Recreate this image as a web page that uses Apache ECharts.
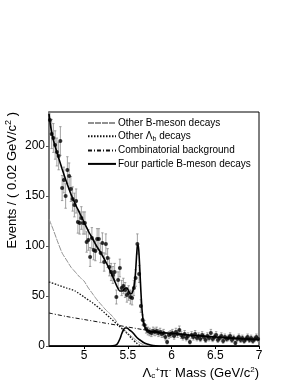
<!DOCTYPE html>
<html>
<head>
<meta charset="utf-8">
<script src="https://cdn.jsdelivr.net/npm/echarts@6/dist/echarts.min.js"></script>
<style>
html,body{margin:0;padding:0;background:#fff;}
#c{width:295px;height:382px;}
</style>
</head>
<body>
<div id="c"></div>
<script>
// ---- data ----
const binCenters = [
4.61,4.63,4.65,4.67,4.69,4.71,4.73,4.75,4.77,4.79,4.81,4.83,4.85,4.87,4.89,4.91,4.93,4.95,4.97,4.99,
5.01,5.03,5.05,5.07,5.09,5.11,5.13,5.15,5.17,5.19,5.21,5.23,5.25,5.27,5.29,5.31,5.33,5.35,5.37,5.39,
5.41,5.43,5.45,5.47,5.49,5.51,5.53,5.55,5.57,5.59,5.61,5.63,5.65,5.67,5.69,5.71,5.73,5.75,5.77,5.79,
5.81,5.83,5.85,5.87,5.89,5.91,5.93,5.95,5.97,5.99,6.01,6.03,6.05,6.07,6.09,6.11,6.13,6.15,6.17,6.19,
6.21,6.23,6.25,6.27,6.29,6.31,6.33,6.35,6.37,6.39,6.41,6.43,6.45,6.47,6.49,6.51,6.53,6.55,6.57,6.59,
6.61,6.63,6.65,6.67,6.69,6.71,6.73,6.75,6.77,6.79,6.81,6.83,6.85,6.87,6.89,6.91,6.93,6.95,6.97,6.99];
const events = [
226,212,208,201,194,190,205,158,166,150,176,170,157,147,141,145,124,123,128,123,
123,104,106,89,108,96,95,107,107,93,103,84,102,88,79,74,71,74,49,66,
78,58,60,56,51,53,49,48,58,68,102,72,40,26,21,17,15,14,13,15,
14,15,13,14,12,13,9,4,11,12,13,10,14,12,16,11,9,12,8,10,
4,11,9,12,8,10,7,11,9,6,10,8,13,7,9,11,6,8,10,5,
9,7,8,10,6,8,3,7,9,6,8,5,7,9,6,8,5,7,9,7];

const fitMass = [4.60,4.62,4.65,4.70,4.75,4.80,4.85,4.90,4.95,5.00,5.05,5.10,5.15,5.20,5.25,5.30,5.35,5.38,5.41,5.44,5.47,5.49,5.51,5.53,5.55,5.57,5.58,5.59,5.60,5.61,5.62,5.63,5.64,5.65,5.66,5.67,5.68,5.70,5.72,5.75,5.80,5.90,6.00,6.20,6.40,6.60,6.80,7.00];
const fitTotal = [232,219,206,191,177,164,152,142,133,124,115,107,99,92,84,75,65,59,55,55,58,58,55,52,53,59,65,75,89,100,101,90,73,55,40,30,24,18,15.5,14.8,14,13.2,12.8,11,9.6,8.4,7.3,6.4];

const otherBMass = [4.60,4.65,4.70,4.75,4.80,4.85,4.90,4.95,5.00,5.05,5.10,5.15,5.20,5.25,5.30,5.35,5.40,5.45,5.50,5.55,5.60,5.65,5.70,5.75];
const otherBVals = [127,116,104,93,86,79,74,69,65,58,52,46,41,36,32,27,21,17,13,9,5.5,2.5,0.8,0];

const otherLbMass = [4.60,4.70,4.80,4.90,5.00,5.10,5.20,5.30,5.40,5.45,5.50,5.55,5.60,5.63,5.65];
const otherLbVals = [64,61,58,55,49,43,36,28,20,16,12,7,3,1,0];

const combMass = [4.60,4.80,5.00,5.20,5.40,5.60,5.80,6.00,6.25,6.50,6.75,7.00];
const combVals = [33,29.5,26.5,23.5,20.5,17.5,14.5,12.5,10.6,9.0,7.6,6.4];

const fourMass = [4.60,5.30,5.35,5.38,5.41,5.43,5.45,5.47,5.49,5.52,5.55,5.58,5.61,5.64,5.68,5.72,5.76,5.82,5.90,7.00];
const fourVals = [0,0,0.5,2,7,12,16,18,18,16,14,11,8,6,3.5,2,1,0.3,0,0];

const xTicks = [5,5.5,6,6.5,7];
const legendNames = ['Other B-meson decays','Other \u039Bb decays','Combinatorial background','Four particle B-meson decays'];

// ---- chart ----
const pair = (xs, ys) => xs.map((x, i) => [x, ys[i]]);
const chart = echarts.init(document.getElementById('c'), null, {renderer: 'canvas'});
const FONT = 'Liberation Sans, Arial, Helvetica, sans-serif';
const CLEAR = 'rgba(0,0,0,0)';

const option = {
  animation: false,
  backgroundColor: '#fff',
  grid: {left: 49, right: 36, top: 112, bottom: 36, show: true, borderColor: '#000', borderWidth: 1},
  xAxis: {
    type: 'value', min: 4.6, max: 7,
    axisLine: {show: true, lineStyle: {color: '#000', width: 1}},
    axisTick: {show: true, length: 3, inside: false, customValues: xTicks, lineStyle: {color: '#000'}},
    axisLabel: {customValues: xTicks, color: '#000', fontSize: 12, fontFamily: FONT, margin: 4,
      formatter: v => String(v)},
    splitLine: {show: false}
  },
  yAxis: {
    type: 'value', min: 0, max: 234, interval: 50,
    axisLine: {show: true, lineStyle: {color: '#777', width: 2}},
    axisTick: {show: true, length: 3, lineStyle: {color: '#555'}},
    axisLabel: {color: '#000', fontSize: 12, fontFamily: FONT, margin: 4, showMaxLabel: false},
    splitLine: {show: false}
  },
  legend: {
    data: legendNames,
    orient: 'vertical', left: 82, top: 113,
    itemWidth: 28, itemHeight: 10, itemGap: 3.3,
    itemStyle: {color: CLEAR, borderColor: CLEAR, borderWidth: 0},
    textStyle: {fontSize: 10, fontFamily: FONT, color: '#000', padding: [0,0,0,-3],
      rich: {sub: {fontSize: 7, verticalAlign: 'bottom', padding: [5,0,0,0], fontFamily: FONT}}},
    formatter: name => name === legendNames[1] ? 'Other \u039B{sub|b} decays' : name
  },
  series: [
    {
      name: 'errors', type: 'custom', clip: true, z: 1,
      data: binCenters.map((x, i) => [x, events[i], Math.sqrt(events[i])]),
      renderItem: (params, api) => {
        const x = api.value(0), y = api.value(1), e = api.value(2);
        const t = api.coord([x, y + e]), b = api.coord([x, y - e]);
        const st = {stroke: '#8a8a8a', lineWidth: 0.8};
        return {type: 'group', children: [
          {type: 'line', shape: {x1: t[0], y1: t[1], x2: b[0], y2: b[1]}, style: st},
          {type: 'line', shape: {x1: t[0]-1.2, y1: t[1], x2: t[0]+1.2, y2: t[1]}, style: st},
          {type: 'line', shape: {x1: b[0]-1.2, y1: b[1], x2: b[0]+1.2, y2: b[1]}, style: st}
        ]};
      }
    },
    {
      name: legendNames[0], type: 'line', symbol: 'none', z: 2, clip: true,
      data: pair(otherBMass, otherBVals), smooth: 0.2,
      lineStyle: {color: '#909090', width: 1, type: [6, 1]}, itemStyle: {color: '#909090'}
    },
    {
      name: legendNames[1], type: 'line', symbol: 'none', z: 2, clip: true,
      data: pair(otherLbMass, otherLbVals), smooth: 0.2,
      lineStyle: {color: '#111', width: 1.3, type: [1.5, 1.5]}, itemStyle: {color: '#111'}
    },
    {
      name: legendNames[2], type: 'line', symbol: 'none', z: 2, clip: true,
      data: pair(combMass, combVals), smooth: 0.3,
      lineStyle: {color: '#111', width: 1, type: [4, 2, 1, 2]}, itemStyle: {color: '#111'}
    },
    {
      name: legendNames[3], type: 'line', symbol: 'none', z: 3, clip: true,
      data: pair(fourMass, fourVals), smooth: 0.3,
      lineStyle: {color: '#000', width: 1.6}, itemStyle: {color: '#000'}
    },
    {
      name: 'Total fit', type: 'line', symbol: 'none', z: 4, clip: true,
      data: pair(fitMass, fitTotal), smooth: 0.25,
      lineStyle: {color: '#000', width: 1.6}
    },
    {
      name: 'Data', type: 'scatter', z: 5, symbol: 'circle', symbolSize: 4,
      data: pair(binCenters, events), itemStyle: {color: '#000'}
    }
  ],
  graphic: [
    {
      type: 'text', x: 12, y: 112, rotation: Math.PI / 2, z: 10,
      style: {
        text: 'Events / ( 0.02 GeV/c{sup|2} )',
        font: '13px ' + FONT, fill: '#000', align: 'right', verticalAlign: 'middle',
        rich: {sup: {fontSize: 9, verticalAlign: 'top', padding: [0,0,7,0], fontFamily: FONT}}
      }
    },
    {
      type: 'text', x: 259, y: 373, z: 10,
      style: {
        text: '\u039B{sub|c}{supc|+}\u03C0{sup|-} Mass (GeV/c{sup|2})',
        font: '13px ' + FONT, fill: '#000', align: 'right', verticalAlign: 'middle',
        rich: {
          sub: {fontSize: 8, fontFamily: FONT, padding: [6,0,0,0]},
          supc: {fontSize: 8, fontFamily: FONT, padding: [0,0,7,0]},
          sup: {fontSize: 8, fontFamily: FONT, padding: [0,0,7,0]}
        }
      }
    }
  ]
};
chart.setOption(option);
</script>
</body>
</html>
